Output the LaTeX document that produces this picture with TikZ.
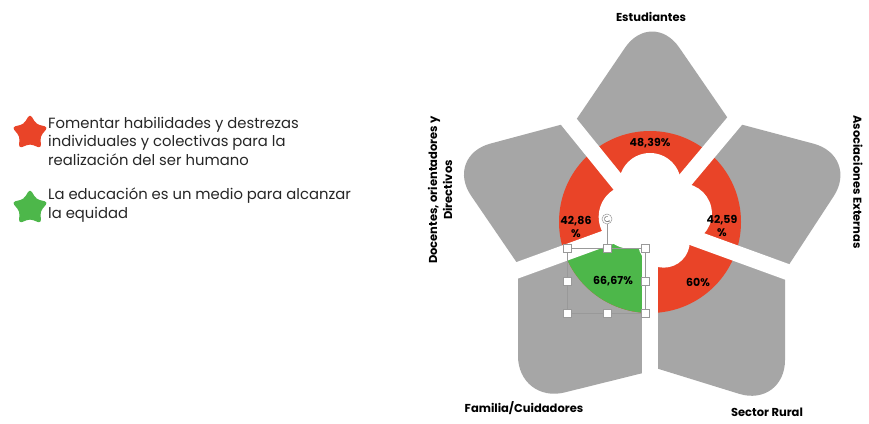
\documentclass[tikz,border=0pt]{standalone}
\usepackage{fontspec}
\setmainfont{Poppins}
\usetikzlibrary{calc,positioning,shapes.geometric,arrows.meta}

\definecolor{ringred}{RGB}{233,68,40}
\definecolor{ringgreen}{RGB}{77,183,74}
\definecolor{petalgray}{RGB}{166,166,166}
\definecolor{legendtext}{RGB}{38,38,38}

% one grey petal: tip, corner A, gap A, corner B, gap B
\newcommand{\petal}[5]{%
	\fill[petal] (C) -- (intersection of #1--#2 and C--#3)
	-- ($(#1)!48pt!(#2)$)
	.. controls ($(#1)!22pt!(#2)$) and ($(#1)!22pt!(#4)$) .. ($(#1)!48pt!(#4)$)
	-- (intersection of #1--#4 and C--#5) -- cycle;}

\tikzset{
	petal/.style={fill=petalgray},
	gapline/.style={draw=white, line width=16pt},
	pct/.style={font=\fontsize{11}{12.5}\selectfont\bfseries, align=center, text=black, inner sep=0pt},
	group/.style={font=\fontsize{11.5}{15}\selectfont\bfseries, align=center, text=black},
	legend/.style={font=\fontsize{14.8}{18.5}\selectfont, align=left, anchor=west, text=legendtext, inner sep=0pt},
	marker/.style={star, star points=5, star point ratio=1.75, minimum size=38pt, inner sep=0pt, rounded corners=3.5pt},
	handle/.style={draw=gray!80, fill=white, minimum size=8pt, inner sep=0pt, line width=0.5pt},
	selframe/.style={draw=gray!80, line width=0.5pt}
}

\begin{document}
\begin{tikzpicture}[x=1pt,y=1pt]
	\useasboundingbox[fill=white] (0,0) rectangle (869,423);
	
	\coordinate (C) at (650,201);
	\coordinate (gapnw) at ($(C)+(129:300)$);
	\coordinate (gapne) at ($(C)+(50:300)$);
	\coordinate (gapse) at ($(C)+(340:300)$);
	\coordinate (gaps) at ($(C)+(270:300)$);
	\coordinate (gapsw) at ($(C)+(200:300)$);
	
	% petals
	\coordinate (est-tip) at (652,415);
	\coordinate (est-a) at (578,306);
	\coordinate (est-b) at (727,306);
	\coordinate (doc-tip) at (444,267);
	\coordinate (doc-a) at (560,298);
	\coordinate (doc-b) at (517,160);
	\coordinate (aso-tip) at (860,267);
	\coordinate (aso-a) at (743,298);
	\coordinate (aso-b) at (790,160);
	\coordinate (rur-tip) at (785,15);
	\coordinate (rur-a) at (785,140);
	\coordinate (rur-b) at (662,53);
	\coordinate (fam-tip) at (518,19);
	\coordinate (fam-a) at (643,50);
	\coordinate (fam-b) at (518,141);
	
	\petal{est-tip}{est-a}{gapnw}{est-b}{gapne}
	\petal{doc-tip}{doc-a}{gapnw}{doc-b}{gapsw}
	\petal{aso-tip}{aso-a}{gapne}{aso-b}{gapse}
	\petal{rur-tip}{rur-a}{gapse}{rur-b}{gaps}
	\petal{fam-tip}{fam-a}{gaps}{fam-b}{gapsw}
	
	% ring
	\fill[ringred] (C) circle (91);
	\fill[ringgreen] (C) -- ++(200:91) arc[start angle=200, end angle=270, radius=91] -- cycle;
	
	% white centre
	\fill[white] ($(C)+(0,8)$) circle (32);
	\fill[white] ($(C)+(90:38)$) circle (31);
	\fill[white] ($(C)+(15:33)$) circle (30);
	\fill[white] ($(C)+(305:24)$) circle (26);
	\fill[white] ($(C)+(165:20)$) circle (32);
	
	\foreach \g in {gapnw,gapne,gapse,gaps,gapsw}
	\draw[gapline] (C) -- (\g);
	
	% values
	\node[pct] (v-est) at (650,280) {48,39\%};
	\node[pct] (v-doc) at (576,196) {42,86\\\%};
	\node[pct] (v-aso) at (722,197) {42,59\\\%};
	\node[pct] (v-rur) at (698,141) {60\%};
	\node[pct] (v-fam) at (613,142) {66,67\%};
	
	% selection
	\coordinate (selnw) at (567,175);
	\coordinate (selse) at (645,110);
	\draw[selframe] (selnw) rectangle (selse);
	\node[draw=gray!80, fill=white, circle, minimum size=10pt, inner sep=0pt, line width=0.5pt] (rot) at (607,204) {};
	\draw[selframe] (rot) -- (607,175);
	\draw[gray, line width=0.6pt, -{Stealth[length=2.2pt]}] ($(rot)+(70:2.6)$) arc[start angle=70, end angle=340, radius=2.6];
	\foreach \hx/\hy [count=\i] in {567/175,607/175,645/175,567/142,645/142,567/110,607/110,645/110}
	\node[handle] (h\i) at (\hx,\hy) {};
	
	% groups
	\node[group] (estud) at (651,406) {Estudiantes};
	\node[group, rotate=90] (docen) at (440,233) {Docentes, orientadores y\\Directivos};
	\node[group, rotate=-90] (asoc) at (858,241) {Asociaciones Externas};
	\node[group] (famil) at (524,15) {Familia/Cuidadores};
	\node[group] (rural) at (767,11) {Sector Rural};
	
	% legend
	\node[marker, fill=ringred] (star-red) at (30,290) {};
	\node[marker, fill=ringgreen] (star-green) at (30,215) {};
	\node[legend] (leg-red) at (48,282) {Fomentar habilidades y destrezas\\individuales y colectivas para la\\realización del ser humano};
	\node[legend] (leg-green) at (48,218) {La educación es un medio para alcanzar\\la equidad};
	
\end{tikzpicture}
\end{document}
